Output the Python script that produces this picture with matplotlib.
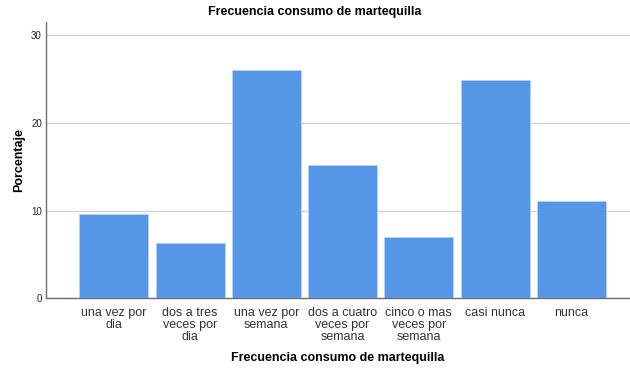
import matplotlib.pyplot as plt

plt.rcParams["font.family"] = ["Liberation Sans", "DejaVu Sans"]

categories = ["una vez por\ndia", "dos a tres\nveces por\ndia", "una vez por\nsemana",
              "dos a cuatro\nveces por\nsemana", "cinco o mas\nveces por\nsemana",
              "casi nunca", "nunca"]
percent = [9.6, 6.3, 26.0, 15.2, 7.0, 24.9, 11.1]
yticks = [0, 10, 20, 30]

W, H = 630, 373
fig = plt.figure(figsize=(W / 100, H / 100), dpi=100)
ax = fig.add_axes([46 / W, (H - 298.3) / H, (630 - 46) / W, (298.3 - 22) / H])

x = list(range(len(categories)))
ax.bar(x, percent, width=0.905, color="#5596e6", edgecolor="#b8d2f2", linewidth=0.6, zorder=3)

ax.set_xlim(-0.89, 6.77)
ax.set_ylim(0, 31.5)
ax.set_yticks(yticks)
ax.set_yticklabels([str(t) for t in yticks], fontsize=7, color="#222222")
ax.set_xticks(x)
ax.set_xticklabels(categories, fontsize=9, color="#333333", linespacing=1.0)
ax.tick_params(axis="both", length=0, pad=3)
ax.tick_params(axis="x", pad=6)
ax.grid(axis="y", color="#d4d4d4", linewidth=1.0, zorder=0)

for s in ["top", "right"]:
    ax.spines[s].set_visible(False)
for s in ["left", "bottom"]:
    ax.spines[s].set_color("#6e6e6e")
    ax.spines[s].set_linewidth(1.0)

ax.set_ylabel("Porcentaje", fontsize=9, fontweight="bold", labelpad=4)
ax.set_xlabel("Frecuencia consumo de martequilla", fontsize=9, fontweight="bold", labelpad=7)
fig.text(0.5, 1 - 12 / H, "Frecuencia consumo de martequilla", fontsize=9,
         fontweight="bold", ha="center", va="center")

fig.savefig("out.png", dpi=100)
